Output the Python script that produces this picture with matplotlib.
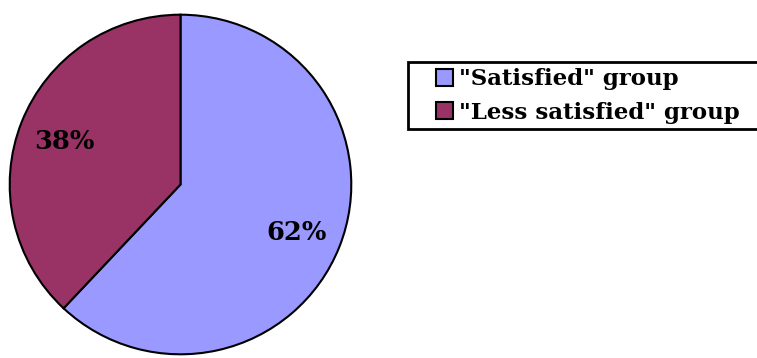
import matplotlib
matplotlib.use("Agg")
import matplotlib.pyplot as plt
from matplotlib.patches import Rectangle

labels = ['"Satisfied" group', '"Less satisfied" group']
values = [62, 38]
colors = ["#9999FF", "#993366"]

W, H = 757, 358
fig = plt.figure(figsize=(W / 100, H / 100), dpi=100)
ax = fig.add_axes([8 / W, 2 / H, 345 / W, 343 / H])
wedges, texts, autotexts = ax.pie(
    values, colors=colors, startangle=90, counterclock=False,
    autopct="%1.0f%%", pctdistance=0.73,
    wedgeprops=dict(edgecolor="black", linewidth=1.5),
    textprops=dict(fontsize=18.5, fontweight="bold", family="DejaVu Serif",
                   color="black", verticalalignment="center_baseline"),
)
ax.set_aspect("auto")
ax.set_xlim(-1.01, 1.01)
ax.set_ylim(-1.01, 1.01)

frame = Rectangle((408 / W, 1 - 129 / H), (770 - 408) / W, (129 - 62) / H,
                  transform=fig.transFigure, facecolor="white", edgecolor="black",
                  linewidth=2, zorder=0, clip_on=False)
fig.add_artist(frame)

leg = fig.legend(
    wedges, labels, loc="center left", bbox_to_anchor=(436 / W, 1 - 96 / H),
    prop=dict(family="DejaVu Serif", weight="bold", size=16.5),
    frameon=False,
    handlelength=0.72, handleheight=0.72, handletextpad=0.28, borderpad=0,
    labelspacing=0.48, borderaxespad=0,
)
for h in leg.legend_handles:
    h.set_linewidth(1.5)
    h.set_edgecolor("black")

fig.savefig("out.png", dpi=100)
